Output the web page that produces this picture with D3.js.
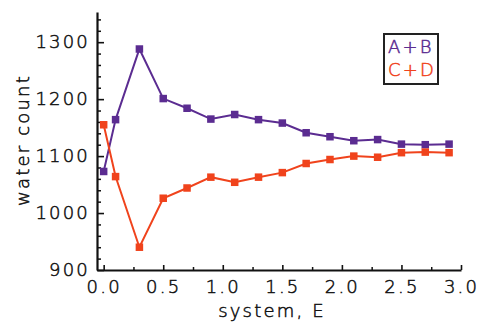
<!DOCTYPE html>
<html>
<head>
<meta charset="utf-8">
<script src="https://cdn.jsdelivr.net/npm/d3@7"></script>
<style>
	body { margin: 0; background: #fff; }
	svg text { font-family: 'DejaVu Sans', sans-serif; font-weight: 200; font-size: 18px; letter-spacing: 2.2px; fill: #111; stroke: #111; stroke-width: 0.5px; }
</style>
</head>
<body>
<script>
const systemE = [0.0, 0.1, 0.3, 0.5, 0.7, 0.9, 1.1, 1.3, 1.5, 1.7, 1.9, 2.1, 2.3, 2.5, 2.7, 2.9];
const abCount = [1073, 1164, 1288, 1201, 1184, 1165, 1173, 1164, 1158, 1141, 1134, 1127, 1129, 1121, 1120, 1121];
const cdCount = [1155, 1064, 940, 1026, 1044, 1063, 1054, 1063, 1071, 1087, 1094, 1100, 1098, 1106, 1107, 1106];
const seriesNames = ['A+B', 'C+D'];
const xMajor = [0, 0.5, 1.0, 1.5, 2.0, 2.5, 3.0];
const xMinor = [0.25, 0.75, 1.25, 1.75, 2.25, 2.75];
const yMajor = [900, 1000, 1100, 1200, 1300];
const yMinor = [920, 940, 960, 980, 1020, 1040, 1060, 1080, 1120, 1140, 1160, 1180, 1220, 1240, 1260, 1280, 1320, 1340];

const width = 479, height = 322;
const colors = ['#5b2c91', '#f0431c'];

const x = d3.scaleLinear().domain([-0.056, 3.0]).range([97, 461]);
const y = d3.scaleLinear().domain([900, 1353]).range([270, 12]);

const svg = d3.select('body').append('svg')
	.attr('width', width)
	.attr('height', height);

// minor ticks first, then the major axes on top
svg.append('g').attr('transform', 'translate(0,270)')
	.call(d3.axisBottom(x).tickValues(xMinor).tickSize(-3).tickSizeOuter(0).tickFormat(''))
	.call(g => g.select('.domain').remove())
	.selectAll('line').attr('stroke', '#111').attr('stroke-width', 1.5);

svg.append('g').attr('transform', 'translate(97,0)')
	.call(d3.axisLeft(y).tickValues(yMinor).tickSize(-4).tickSizeOuter(0).tickFormat(''))
	.call(g => g.select('.domain').remove())
	.selectAll('line').attr('stroke', '#111').attr('stroke-width', 1.5);

const xAxis = svg.append('g').attr('transform', 'translate(0,270)')
	.call(d3.axisBottom(x).tickValues(xMajor).tickSize(-5).tickSizeOuter(0).tickFormat(d3.format('.1f')));
xAxis.select('.domain').attr('stroke', '#111').attr('stroke-width', 2.2);
xAxis.selectAll('line').attr('stroke', '#111').attr('stroke-width', 1.6);
xAxis.selectAll('text').attr('dy', null).attr('y', 23).attr('font-size', null).attr('font-family', null).attr('fill', null);

const yAxis = svg.append('g').attr('transform', 'translate(97,0)')
	.call(d3.axisLeft(y).tickValues(yMajor).tickSize(-7).tickSizeOuter(0).tickFormat(d3.format('d')).tickPadding(7));
yAxis.select('.domain').attr('stroke', '#111').attr('stroke-width', 2.2);
yAxis.selectAll('line').attr('stroke', '#111').attr('stroke-width', 1.6);
yAxis.selectAll('text').attr('font-size', null).attr('font-family', null).attr('fill', null);

// axis titles
svg.append('text')
	.attr('x', 272).attr('y', 317)
	.attr('text-anchor', 'middle')
	.text('system, E');

svg.append('text')
	.attr('transform', 'translate(29,140) rotate(-90)')
	.attr('text-anchor', 'middle')
	.text('water count');

// series
const line = d3.line().x(d => x(d[0])).y(d => y(d[1]));
[abCount, cdCount].forEach((vals, i) => {
	const pts = systemE.map((e, j) => [e, vals[j]]);
	svg.append('path')
		.datum(pts)
		.attr('fill', 'none')
		.attr('stroke', colors[i])
		.attr('stroke-width', 2)
		.attr('d', line);
	svg.append('g').selectAll('rect')
		.data(pts)
		.join('rect')
		.attr('x', d => x(d[0]) - 3.75)
		.attr('y', d => y(d[1]) - 3.75)
		.attr('width', 7.5)
		.attr('height', 7.5)
		.attr('fill', colors[i]);
});

// legend
const legend = svg.append('g');
legend.append('rect')
	.attr('x', 384).attr('y', 34)
	.attr('width', 54).attr('height', 50)
	.attr('fill', 'none')
	.attr('stroke', '#222')
	.attr('stroke-width', 2);
seriesNames.forEach((name, i) => {
	legend.append('text')
		.attr('x', 388)
		.attr('y', 53 + i * 23)
		.style('fill', colors[i])
		.style('stroke', colors[i])
		.text(name);
});
</script>
</body>
</html>
